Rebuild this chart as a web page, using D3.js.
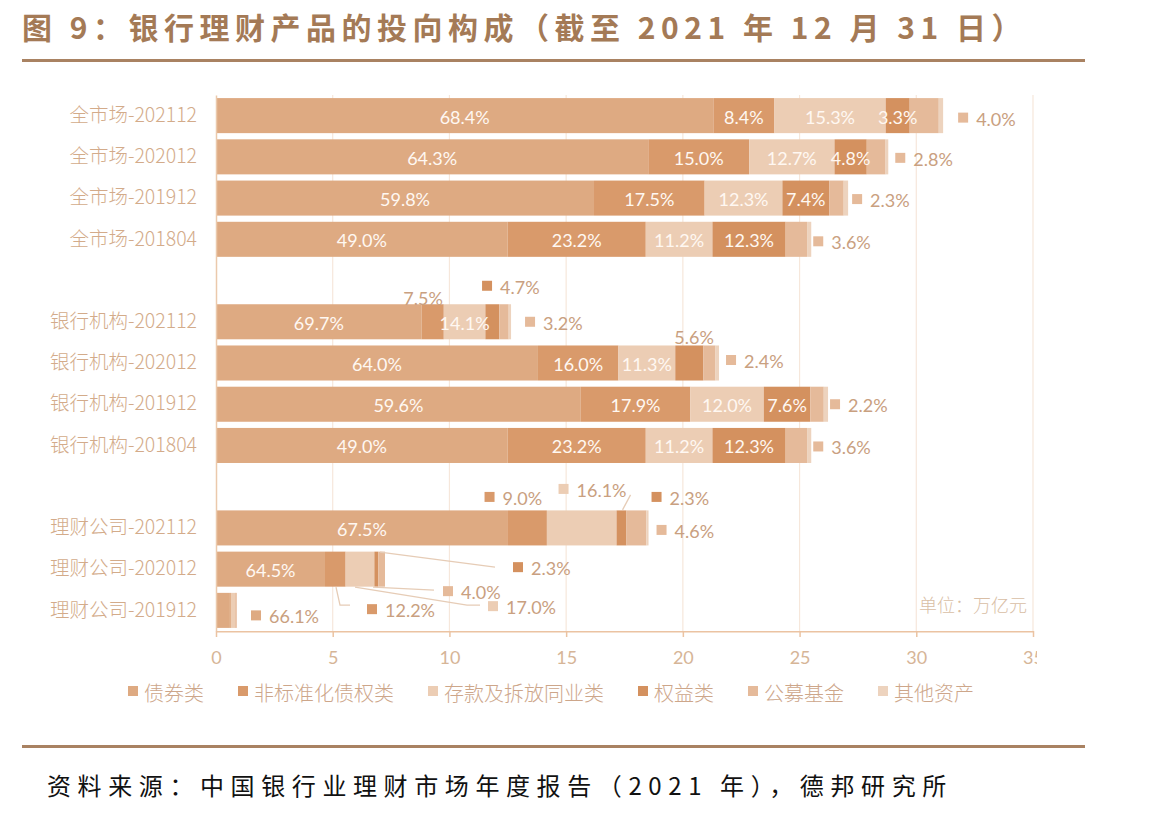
<!DOCTYPE html>
<html>
<head>
<meta charset="utf-8">
<script src="https://cdn.jsdelivr.net/npm/d3@7"></script>
<style>
  body { margin: 0; background: #fff; }
  svg { display: block; }
</style>
</head>
<body>
<div id="chart"></div>
<script>
// rows of the chart, top to bottom (gaps are added between the groups)
var categories = ['全市场-202112', '全市场-202012', '全市场-201912', '全市场-201804',
  '银行机构-202112', '银行机构-202012', '银行机构-201912', '银行机构-201804',
  '理财公司-202112', '理财公司-202012', '理财公司-201912'];
var groupBreaks = [4, 8];

// bar length, 万亿元
var totals = [31.15, 28.8, 27.08, 25.5, 12.64, 21.55, 26.22, 25.5, 18.53, 7.24, 0.9];

// share of each asset class, %
var seriesNames = ['债券类', '非标准化债权类', '存款及拆放同业类', '权益类', '公募基金', '其他资产'];
var bond    = [68.4, 64.3, 59.8, 49.0, 69.7, 64.0, 59.6, 49.0, 67.5, 64.5, 66.1];
var nonStd  = [8.4, 15.0, 17.5, 23.2, 7.5, 16.0, 17.9, 23.2, 9.0, 12.2, 4.5];
var deposit = [15.3, 12.7, 12.3, 11.2, 14.1, 11.3, 12.0, 11.2, 16.1, 17.0, 20.0];
var equity  = [3.3, 4.8, 7.4, 12.3, 4.7, 5.6, 7.6, 12.3, 2.3, 2.3, 2.0];
var fund    = [4.0, 2.8, 2.3, 3.6, 3.2, 2.4, 2.2, 3.6, 4.6, 4.0, 6.4];
var other   = [0.6, 0.4, 0.7, 0.7, 0.8, 0.7, 0.7, 0.7, 0.5, 0.0, 1.0];
var seriesValues = [bond, nonStd, deposit, equity, fund, other];

var xTicks = [0, 5, 10, 15, 20, 25, 30, 35];

var colors = ['#DEAA82', '#D99A6B', '#ECCDB4', '#D4915F', '#E5BA9A', '#EDD3BE'];

// which segments carry their label inside the bar
var insideLabels = [[0,1,2,3],[0,1,2,3],[0,1,2,3],[0,1,2,3],[0,2],[0,1,2],[0,1,2,3],[0,1,2,3],[0],[0],[]];
// labels outside the bar: offsets from the bar end / row centre
var outsideLabels = [
  {row: 0, s: 4, dx: 20, dy: 2, mark: true},
  {row: 1, s: 4, dx: 12, dy: 1, mark: true},
  {row: 2, s: 4, dx: 9, dy: 1, mark: true},
  {row: 3, s: 4, dx: 7, dy: 2, mark: true},
  {row: 4, s: 1, dx: -88, dy: -25, mark: false},
  {row: 4, s: 3, dx: -24, dy: -36, mark: true},
  {row: 4, s: 4, dx: 19, dy: 0, mark: true},
  {row: 5, s: 3, dx: -25, dy: -27, mark: false},
  {row: 5, s: 4, dx: 12, dy: -3, mark: true},
  {row: 6, s: 4, dx: 7, dy: 0, mark: true},
  {row: 7, s: 4, dx: 7, dy: 1, mark: true},
  {row: 8, s: 1, dx: -159, dy: -31, mark: true},
  {row: 8, s: 2, dx: -85, dy: -39, mark: true, leader: [[-18, -33], [-26, -18]]},
  {row: 8, s: 3, dx: 8, dy: -31, mark: true},
  {row: 8, s: 4, dx: 13, dy: 2, mark: true},
  {row: 9, s: 1, dx: -13, dy: 40, mark: true, leader: [[-49, 18], [-45, 36], [-35, 36]]},
  {row: 9, s: 2, dx: 108, dy: 37, mark: true, leader: [[-30, 18], [82, 36], [95, 36]]},
  {row: 9, s: 3, dx: 133, dy: -2, mark: true, leader: [[-5, -17], [110, -2]]},
  {row: 9, s: 4, dx: 63, dy: 22, mark: true, leader: [[-12, 18], [49, 21]]},
  {row: 10, s: 0, dx: 19, dy: 5, mark: true}
];

var W = 1149, H = 817;
var svg = d3.select('#chart').append('svg')
  .attr('width', W)
  .attr('height', H)
  .style('background', '#fff');

// header and footer
svg.append('text')
  .attr('x', 22).attr('y', 39)
  .attr('font-family', '"Noto Sans CJK SC", sans-serif')
  .attr('font-weight', 'bold').attr('font-size', 30)
  .attr('letter-spacing', 5.5)
  .attr('fill', '#A47A56')
  .text('图 9：银行理财产品的投向构成（截至 2021 年 12 月 31 日）');

svg.append('rect').attr('x', 22).attr('y', 59).attr('width', 1063).attr('height', 3).attr('fill', '#A98262');
svg.append('rect').attr('x', 22).attr('y', 745).attr('width', 1063).attr('height', 3).attr('fill', '#A98262');

svg.append('text')
  .attr('x', 47).attr('y', 795)
  .attr('font-family', '"Noto Sans CJK SC", sans-serif')
  .attr('font-size', 24)
  .attr('letter-spacing', 6.6)
  .attr('fill', '#111')
  .text('资料来源：中国银行业理财市场年度报告（2021 年），德邦研究所');

// scales
var slots = [];
categories.forEach(function(c, i) {
  if (groupBreaks.indexOf(i) >= 0) slots.push('gap' + i);
  slots.push(c);
});

var x = d3.scaleLinear().domain([0, 35]).range([216, 1033]);
var y = d3.scaleBand().domain(slots).range([95, 631]).paddingInner(0.15).paddingOuter(0.075);

var table = categories.map(function(c, i) {
  var row = {cat: c};
  seriesNames.forEach(function(name, s) {
    row[name] = totals[i] * seriesValues[s][i] / 100;
  });
  return row;
});
var stacked = d3.stack().keys(seriesNames)(table);

var clip = svg.append('clipPath').attr('id', 'plotclip');
clip.append('rect').attr('x', 0).attr('y', 0).attr('width', 1037).attr('height', H);

// grid
svg.append('g')
  .selectAll('line')
  .data(xTicks.slice(1))
  .join('line')
  .attr('x1', function(d) { return x(d); })
  .attr('x2', function(d) { return x(d); })
  .attr('y1', 95).attr('y2', 631)
  .attr('stroke', '#F6E7DB').attr('stroke-width', 1.2);

// bars
svg.append('g')
  .selectAll('g')
  .data(stacked)
  .join('g')
  .attr('fill', function(d, i) { return colors[i]; })
  .selectAll('rect')
  .data(function(d) { return d; })
  .join('rect')
  .attr('x', function(d) { return x(d[0]); })
  .attr('y', function(d) { return y(d.data.cat); })
  .attr('width', function(d) { return Math.max(0, x(d[1]) - x(d[0])); })
  .attr('height', y.bandwidth());

// axes
var xAxis = svg.append('g')
  .attr('transform', 'translate(0,631)')
  .attr('clip-path', 'url(#plotclip)')
  .call(d3.axisBottom(x).tickValues(xTicks).tickSize(6).tickPadding(14).tickSizeOuter(0));
xAxis.select('.domain').attr('stroke', '#EBC3A2').attr('stroke-width', 2);
xAxis.selectAll('.tick line').attr('stroke', '#EBC3A2').attr('stroke-width', 1.5);
xAxis.selectAll('.tick text')
  .attr('fill', '#D6B597')
  .attr('font-family', 'Lato, sans-serif')
  .attr('font-size', 18);

var yAxis = svg.append('g')
  .attr('transform', 'translate(216,0)')
  .call(d3.axisLeft(y).tickSize(0).tickPadding(19)
    .tickFormat(function(d) { return d.indexOf('gap') === 0 ? '' : d; }));
yAxis.select('.domain').attr('stroke', '#EBC9AC').attr('stroke-width', 1.5);
yAxis.selectAll('.tick text')
  .attr('fill', '#D3AB8A')
  .attr('font-family', '"Noto Sans CJK SC", sans-serif')
  .attr('font-weight', 300)
  .attr('font-size', 19.5);

// inside labels
var inside = [];
insideLabels.forEach(function(list, r) {
  list.forEach(function(s) {
    var seg = stacked[s][r];
    inside.push({x: (x(seg[0]) + x(seg[1])) / 2, y: y(categories[r]) + y.bandwidth() / 2, t: seriesValues[s][r].toFixed(1) + '%'});
  });
});
svg.append('g')
  .selectAll('text')
  .data(inside)
  .join('text')
  .attr('x', function(d) { return d.x; })
  .attr('y', function(d) { return d.y + 1; })
  .attr('text-anchor', 'middle')
  .attr('dominant-baseline', 'central')
  .attr('font-family', 'Lato, sans-serif')
  .attr('font-size', 18)
  .attr('fill', '#FFF8F2')
  .text(function(d) { return d.t; });

// outside labels with leader lines
var outG = svg.append('g');
outsideLabels.forEach(function(l) {
  var xEnd = x(totals[l.row]);
  var cy = y(categories[l.row]) + y.bandwidth() / 2;
  if (l.leader) {
    outG.append('polyline')
      .attr('points', l.leader.map(function(p) { return (xEnd + p[0]) + ',' + (cy + p[1]); }).join(' '))
      .attr('fill', 'none')
      .attr('stroke', '#E6CCB6')
      .attr('stroke-width', 1.3);
  }
  var mx = xEnd + l.dx, my = cy + l.dy;
  var txt = seriesValues[l.s][l.row].toFixed(1) + '%';
  if (l.mark) {
    outG.append('rect')
      .attr('x', mx - 5).attr('y', my - 5)
      .attr('width', 10).attr('height', 10)
      .attr('fill', colors[l.s]);
  }
  outG.append('text')
    .attr('x', l.mark ? mx + 13 : mx)
    .attr('y', my + 1)
    .attr('text-anchor', l.mark ? 'start' : 'middle')
    .attr('dominant-baseline', 'central')
    .attr('font-family', 'Lato, sans-serif')
    .attr('font-size', 18)
    .attr('fill', '#C9A080')
    .text(txt);
});

// unit note
svg.append('text')
  .attr('x', 1027).attr('y', 604)
  .attr('text-anchor', 'end')
  .attr('dominant-baseline', 'central')
  .attr('font-family', '"Noto Sans CJK SC", sans-serif')
  .attr('font-weight', 300)
  .attr('font-size', 18)
  .attr('fill', '#D9BEA5')
  .text('单位：万亿元');

// legend
var legend = svg.append('g');
var lx = 128;
seriesNames.forEach(function(name, i) {
  legend.append('rect')
    .attr('x', lx).attr('y', 686)
    .attr('width', 10).attr('height', 10)
    .attr('fill', colors[i]);
  var t = legend.append('text')
    .attr('x', lx + 16).attr('y', 692)
    .attr('dominant-baseline', 'central')
    .attr('font-family', '"Noto Sans CJK SC", sans-serif')
    .attr('font-weight', 300)
    .attr('font-size', 20)
    .attr('fill', '#CDA68A')
    .text(name);
  lx += 16 + t.node().getComputedTextLength() + 34;
});
</script>
</body>
</html>
